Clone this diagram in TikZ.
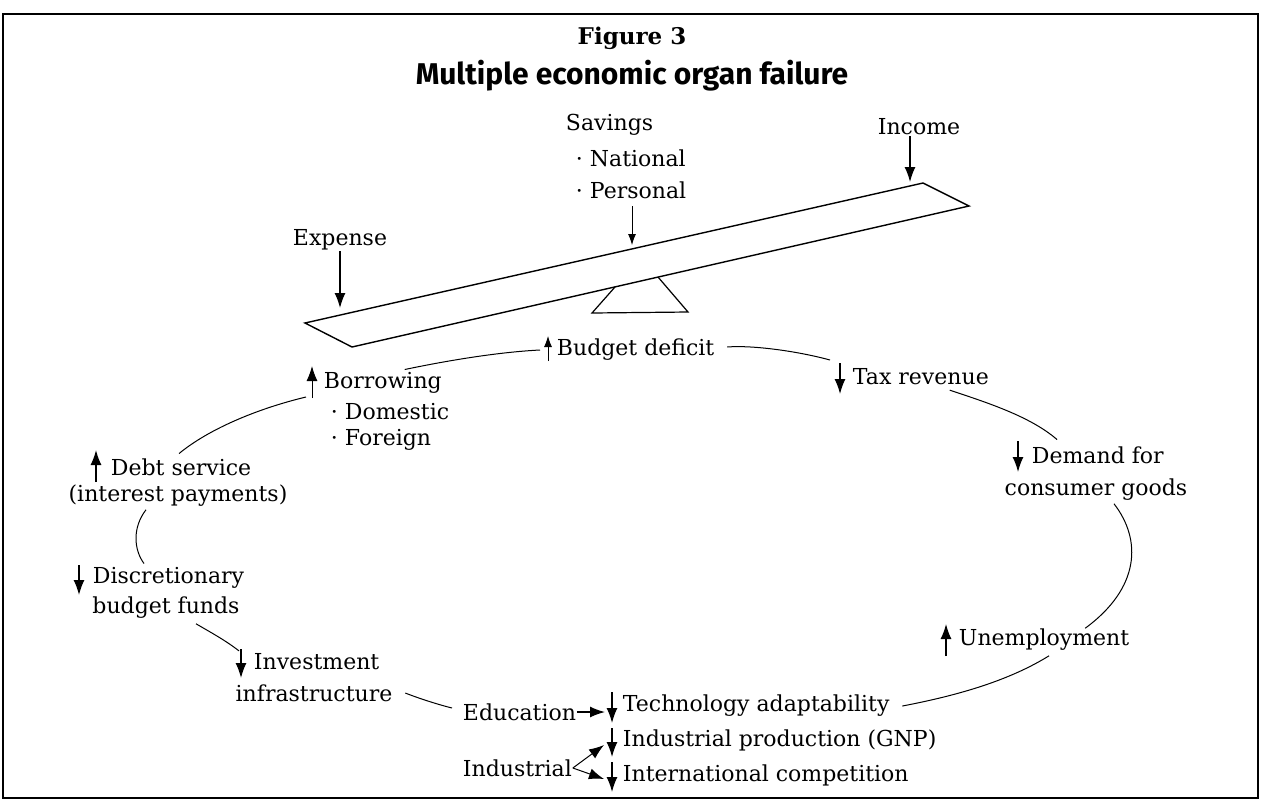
\documentclass[tikz,border=0pt]{standalone}
\usepackage{fontspec}
\setmainfont{DejaVu Serif}
\newfontfamily\headsans{Fira Sans}
\usetikzlibrary{arrows.meta,calc}

\begin{document}
\begin{tikzpicture}[x=1pt,y=1pt,yscale=-1,xscale=1,
    lbl/.style={inner sep=0.75pt,font=\fontsize{22}{31}\selectfont},
    bigar/.style={-{Latex[length=15pt,width=11pt]},line width=1.4pt},
    thinar/.style={-{Latex[length=11pt,width=8pt]},line width=0.8pt},
    link/.style={line width=1pt}]
    \useasboundingbox (0,0) rectangle (1263,807);

    %Shape: Frame
    \draw [line width=1.5pt] (3,14) rectangle (1258,798);

    % Text Node
    \draw (632,38) node [inner sep=0.75pt,font=\fontsize{23}{26}\selectfont\bfseries] (fig) {Figure 3};
    % Text Node
    \draw (632,76) node [inner sep=0.75pt,font=\fontsize{30}{34}\selectfont\headsans\bfseries] (ttl) {Multiple economic organ failure};

    %Shape: Plank
    \draw [line width=1.4pt] (305,323) -- (923,183) -- (969,206) -- (352,347) -- cycle ;
    %Shape: Fulcrum
    \draw [line width=1.2pt] (615,287) -- (592,313) -- (688,312) -- (658,277) ;

    % Text Node
    \draw (565,125) node [lbl,anchor=west] (sav) {Savings};
    % Text Node
    \draw (575,158) node [lbl,anchor=west] (nat) {·\ National};
    % Text Node
    \draw (575,190) node [lbl,anchor=west] (per) {·\ Personal};
    \coordinate (savtip) at (632,245);
    \draw [thinar] (632,206) -- (savtip) ;
    % Text Node
    \draw (919,127) node [lbl] (inc) {Income};
    \coordinate (inctip) at (910,182);
    \draw [bigar] (inc.south -| inctip) -- (inctip) ;
    % Text Node
    \draw (340,240) node [lbl] (exp) {Expense};
    \coordinate (exptip) at (340,308);
    \draw [bigar] (exp.south -| exptip) -- (exptip) ;

    % Text Node
    \draw (556,350) node [lbl,anchor=west] (bud) {Budget deficit};
    \draw [thinar] (548,361) -- (548,336) ;
    % Text Node
    \draw (852,377) node [lbl,anchor=west] (tax) {Tax revenue};
    \draw [bigar] (840,363) -- (840,394) ;
    % Text Node
    \draw (1031,455) node [lbl,anchor=west] (dem1) {Demand for};
    \draw (1096,490) node [lbl] (dem2) {consumer goods};
    \draw [bigar] (1018,441) -- (1018,472) ;
    % Text Node
    \draw (958,640) node [lbl,anchor=west] (une) {Unemployment};
    \draw [bigar] (946,656) -- (946,624) ;
    % Text Node
    \draw (622,706) node [lbl,anchor=west] (tech) {Technology adaptability};
    \draw [bigar] (612,692) -- (612,723) ;
    % Text Node
    \draw (622,740) node [lbl,anchor=west] (gnp) {Industrial production (GNP)};
    \draw [bigar] (612,728) -- (612,757) ;
    % Text Node
    \draw (622,775) node [lbl,anchor=west] (intl) {International competition};
    \draw [bigar] (612,762) -- (612,792) ;
    % Text Node
    \draw (462,712) node [lbl,anchor=west] (edu) {Education};
    \draw [bigar] (edu.east) -- (605,712) ;
    % Text Node
    \draw (462,768) node [lbl,anchor=west] (ind) {Industrial};
    \draw [bigar,line width=1pt] (ind.east) -- (604,745) ;
    \draw [bigar,line width=1pt] (ind.east) -- (604,779) ;
    % Text Node
    \draw (253,662) node [lbl,anchor=west] (inv1) {Investment};
    \draw (314,693) node [lbl] (inv2) {infrastructure};
    \draw [bigar] (241,649) -- (241,678) ;
    % Text Node
    \draw (92,578) node [lbl,anchor=west] (dis1) {Discretionary};
    \draw (166,608) node [lbl] (dis2) {budget funds};
    \draw [bigar] (79,565) -- (79,595) ;
    % Text Node
    \draw (110,467) node [lbl,anchor=west] (debt1) {Debt service};
    \draw (178,496) node [lbl] (debt2) {(interest payments)};
    \draw [bigar] (96,482) -- (96,450) ;
    % Text Node
    \draw (323,383) node [lbl,anchor=west] (bor) {Borrowing};
    \draw (330,412) node [lbl,anchor=west] (dom) {·\ Domestic};
    \draw (330,440) node [lbl,anchor=west] (for) {·\ Foreign};
    \draw [bigar,line width=1pt] (312,398) -- (312,366) ;

    %Curves
    \draw [link] ($(bud.east)+(12,-3)$) .. controls (752,345) and (797,351) .. ($(tax.west)+(-22,-17)$) ;
    \draw [link] ($(tax.south east)+(-40,4)$) .. controls (985,402) and (1030,416) .. ($(dem1.north west)+(26,-6)$) ;
    \draw [link] ($(dem2.south)+(18,2)$) .. controls (1142,540) and (1140,588) .. ($(une.north east)+(-45,0)$) ;
    \draw [link] ($(une.south)+(5,4)$) .. controls (1010,680) and (960,695) .. ($(tech.east)+(12,0)$) ;
    \draw [link] ($(inv2.east)+(12,0)$) .. controls (410,695) and (432,703) .. ($(edu.west)+(-10,-4)$) ;
    \draw [link] ($(dis2.south)+(30,4)$) .. controls (210,632) and (225,640) .. ($(inv1.north west)+(-14,-2)$) ;
    \draw [link] ($(debt2.south)+(-32,2)$) .. controls (132,528) and (134,550) .. ($(dis1.north west)+(52,-3)$) ;
    \draw [link] ($(debt1.north)+(-2,-4)$) .. controls (210,428) and (260,408) .. ($(bor.west)+(-17,14)$) ;
    \draw [link] ($(bor.north east)+(-38,-2)$) .. controls (450,360) and (500,352) .. ($(bud.west)+(-16,0)$) ;
\end{tikzpicture}
\end{document}
